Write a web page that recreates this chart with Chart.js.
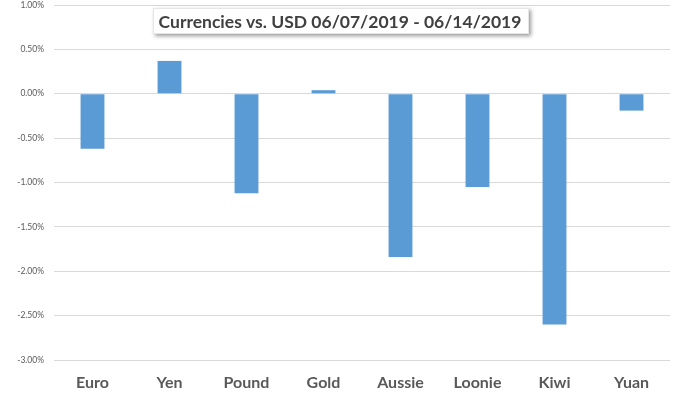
<!DOCTYPE html>
<html>
<head>
<meta charset="utf-8">
<script src="https://cdn.jsdelivr.net/npm/chart.js@4"></script>
<style>
  html, body { margin: 0; padding: 0; background: #fff; }
  #wrap { width: 680px; height: 393px; position: relative; }
</style>
</head>
<body>
<div id="wrap"><canvas id="fxChart"></canvas></div>
<script>
// weekly change vs USD, in percent
const currencies = ['Euro', 'Yen', 'Pound', 'Gold', 'Aussie', 'Loonie', 'Kiwi', 'Yuan'];
const weeklyChange = [-0.62, 0.37, -1.12, 0.04, -1.84, -1.05, -2.60, -0.19];
const titleText = 'Currencies vs. USD 06/07/2019 - 06/14/2019';

// Excel-style boxed title with a drop shadow
const boxedTitle = {
    id: 'boxedTitle',
    afterDraw(chart) {
        const ctx = chart.ctx;
        const x = 153, y = 8, w = 376, h = 26;
        ctx.save();
        ctx.shadowColor = 'rgba(0, 0, 0, 0.4)';
        ctx.shadowBlur = 4;
        ctx.shadowOffsetX = 2;
        ctx.shadowOffsetY = 2;
        ctx.fillStyle = '#ffffff';
        ctx.fillRect(x, y, w, h);
        ctx.restore();

        ctx.save();
        ctx.strokeStyle = '#e6e6e6';
        ctx.lineWidth = 1;
        ctx.strokeRect(x + 0.5, y + 0.5, w - 1, h - 1);
        ctx.fillStyle = '#404040';
        ctx.font = 'bold 17.5px Lato';
        ctx.textAlign = 'center';
        ctx.textBaseline = 'middle';
        ctx.fillText(titleText, x + w / 2 - 1, y + h / 2 + 1);
        ctx.restore();
    }
};

new Chart(document.getElementById('fxChart'), {
    type: 'bar',
    data: {
        labels: currencies,
        datasets: [{
            data: weeklyChange,
            backgroundColor: '#5b9bd5',
            borderWidth: 0,
            categoryPercentage: 1,
            barPercentage: 0.31
        }]
    },
    options: {
        responsive: true,
        maintainAspectRatio: false,
        animation: false,
        layout: { padding: { top: 5, right: 10, left: 0, bottom: 0 } },
        plugins: {
            legend: { display: false },
            tooltip: { enabled: false }
        },
        scales: {
            x: {
                grid: { display: false, drawTicks: false },
                border: { display: false },
                ticks: {
                    color: '#595959',
                    font: { family: 'Lato', size: 16, weight: 'bold' },
                    padding: 13
                },
                afterFit(scale) { scale.height = 33; }
            },
            y: {
                min: -3,
                max: 1,
                grid: { color: '#d9d9d9', drawTicks: false },
                border: { display: false },
                ticks: {
                    stepSize: 0.5,
                    color: '#595959',
                    font: { family: 'Lato', size: 8.5 },
                    padding: 10,
                    callback: v => v.toFixed(2) + '%'
                },
                afterFit(scale) {
                    scale.width = 54;
                    scale.paddingTop = 0;
                    scale.paddingBottom = 0;
                }
            }
        }
    },
    plugins: [boxedTitle]
});
</script>
</body>
</html>
